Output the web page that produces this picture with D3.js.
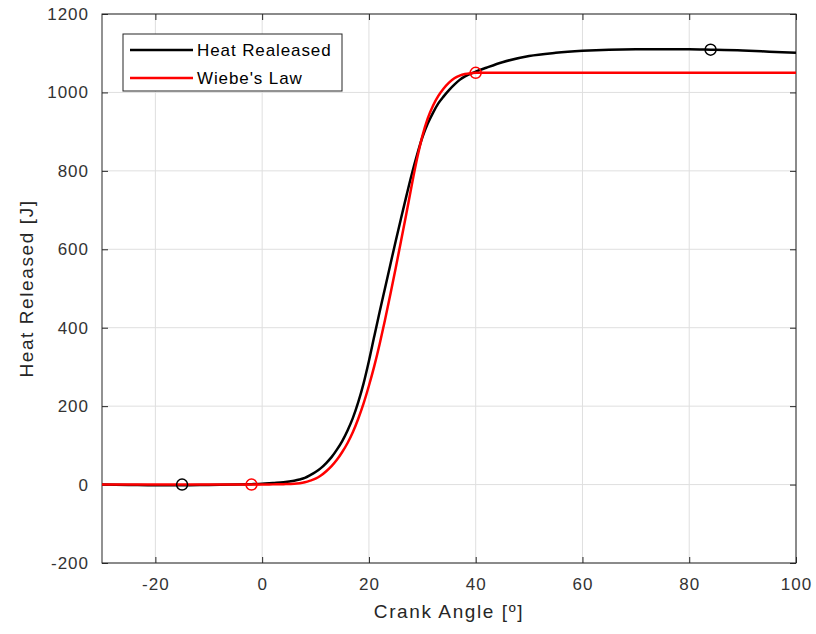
<!DOCTYPE html>
<html>
<head>
<meta charset="utf-8">
<script src="https://cdn.jsdelivr.net/npm/d3@7"></script>
<style>
  body { margin: 0; background: #fff; }
  text { font-family: "Liberation Sans", Arial, sans-serif; }
</style>
</head>
<body>
<div id="graph-container"></div>
<script>
// crank angle [deg] and heat released [J]
const heatAngle = [-30, -25, -20, -15, -10, -5, -2, 0, 2, 4, 6, 7, 8, 9, 10, 11, 12, 13, 14, 15, 16, 17, 18, 19, 20,
  21, 22, 23, 24, 25, 26, 27, 28, 29, 30, 31, 32, 33, 34, 35, 36, 37, 38, 40, 42, 45, 50, 55, 60, 65, 70, 80, 84, 90, 95, 100];
const heatValue = [0, -1, -2, -2, -1, 0, 1, 2, 4, 6, 10, 13, 17, 24, 32, 42, 55, 70, 89, 111, 138, 170, 210, 258, 315,
  378, 440, 500, 560, 620, 678, 735, 790, 840, 885, 920, 948, 972, 990, 1006, 1020, 1032, 1041, 1053, 1063, 1077, 1093, 1101, 1106, 1109, 1110, 1110, 1109, 1107, 1104, 1101];

const wiebeAngle = [-30, -20, -10, -2, 0, 2, 4, 6, 8, 9, 10, 11, 12, 13, 14, 15, 16, 17, 18, 19, 20,
  21, 22, 23, 24, 25, 26, 27, 28, 29, 30, 31, 32, 33, 34, 35, 36, 37, 38, 39, 40, 60, 80, 100];
const wiebeValue = [0, 0, 0, 0, 0, 0.5, 1, 2, 6, 10, 15, 23, 34, 47, 63, 83, 106, 134, 168, 207, 252,
  302, 358, 419, 484, 551, 620, 690, 762, 830, 888, 933, 966, 991, 1010, 1025, 1036, 1043, 1047, 1049, 1050, 1050, 1050, 1050];

// circle markers
const heatMarks = [{x: -15, y: 0}, {x: 84, y: 1109}];
const wiebeMarks = [{x: -2, y: 0}, {x: 40, y: 1050}];

const xTicks = [-20, 0, 20, 40, 60, 80, 100];
const yTicks = [-200, 0, 200, 400, 600, 800, 1000, 1200];

const legendNames = ["Heat Realeased", "Wiebe's Law"];
const legendColors = ["#000000", "#ff0000"];

let margin = {top: 14, right: 20, bottom: 71, left: 102},
  width = 816 - margin.left - margin.right,
  height = 634 - margin.top - margin.bottom;

let svg = d3.select("#graph-container")
  .append("svg")
  .attr("width", 816)
  .attr("height", 634)
    .append("g")
    .attr("transform", "translate(" + margin.left + "," + margin.top + ")");

let x = d3.scaleLinear().domain([-30, 100]).range([0, width]);
let y = d3.scaleLinear().domain([-200, 1200]).range([height, 0]);

// grid
svg.append("g")
  .selectAll("line")
  .data(xTicks)
  .enter().append("line")
    .attr("x1", d => x(d)).attr("x2", d => x(d))
    .attr("y1", 0).attr("y2", height)
    .attr("stroke", "#dfdfdf").attr("stroke-width", 1);
svg.append("g")
  .selectAll("line")
  .data(yTicks)
  .enter().append("line")
    .attr("x1", 0).attr("x2", width)
    .attr("y1", d => y(d)).attr("y2", d => y(d))
    .attr("stroke", "#dfdfdf").attr("stroke-width", 1);

// axes, ticks pointing inward on all four sides
function styleAxis(g) {
  g.select(".domain").remove();
  g.selectAll(".tick line").attr("stroke", "#262626");
  g.selectAll(".tick text")
    .attr("fill", "#333")
    .attr("font-size", "17px")
    .attr("letter-spacing", "1px");
}
let plain = d => String(d);
svg.append("g")
  .attr("transform", "translate(0," + height + ")")
  .call(d3.axisBottom(x).tickValues(xTicks).tickFormat(plain).tickSizeInner(-6).tickSizeOuter(0).tickPadding(15))
  .call(styleAxis);
svg.append("g")
  .call(d3.axisTop(x).tickValues(xTicks).tickSizeInner(-6).tickSizeOuter(0).tickFormat(""))
  .call(styleAxis);
svg.append("g")
  .call(d3.axisLeft(y).tickValues(yTicks).tickFormat(plain).tickSizeInner(-6).tickSizeOuter(0).tickPadding(13))
  .call(styleAxis);
svg.append("g")
  .attr("transform", "translate(" + width + ",0)")
  .call(d3.axisRight(y).tickValues(yTicks).tickSizeInner(-6).tickSizeOuter(0).tickFormat(""))
  .call(styleAxis);

// box
svg.append("rect")
  .attr("x", 0).attr("y", 0)
  .attr("width", width).attr("height", height)
  .attr("fill", "none").attr("stroke", "#262626").attr("stroke-width", 1);

// lines
let line = d3.line().x(d => x(d[0])).y(d => y(d[1])).curve(d3.curveMonotoneX);

svg.append("path")
  .datum(heatAngle.map((a, i) => [a, heatValue[i]]))
  .attr("d", line)
  .attr("fill", "none").attr("stroke", "#000").attr("stroke-width", 2.5);

svg.append("path")
  .datum(wiebeAngle.map((a, i) => [a, wiebeValue[i]]))
  .attr("d", line)
  .attr("fill", "none").attr("stroke", "#ff0000").attr("stroke-width", 2.5);

// markers
svg.append("g")
  .selectAll("circle")
  .data(heatMarks)
  .enter().append("circle")
    .attr("cx", d => x(d.x)).attr("cy", d => y(d.y)).attr("r", 5.5)
    .attr("fill", "none").attr("stroke", "#000").attr("stroke-width", 1.5);
svg.append("g")
  .selectAll("circle")
  .data(wiebeMarks)
  .enter().append("circle")
    .attr("cx", d => x(d.x)).attr("cy", d => y(d.y)).attr("r", 5.5)
    .attr("fill", "none").attr("stroke", "#ff0000").attr("stroke-width", 1.5);

// axis labels
svg.append("text")
  .attr("x", width / 2).attr("y", height + 55)
  .attr("text-anchor", "middle")
  .attr("font-size", "19px").attr("letter-spacing", "1.6px").attr("fill", "#262626")
  .text("Crank Angle [º]");
svg.append("text")
  .attr("transform", "translate(" + (-69) + "," + (height / 2) + ") rotate(-90)")
  .attr("text-anchor", "middle")
  .attr("font-size", "19px").attr("letter-spacing", "1.6px").attr("fill", "#262626")
  .text("Heat Released [J]");

// legend
let legend = svg.append("g").attr("transform", "translate(21,20)");
legend.append("rect")
  .attr("x", 0).attr("y", 0).attr("width", 219).attr("height", 57)
  .attr("fill", "#fff").attr("stroke", "#262626").attr("stroke-width", 1);
legendNames.forEach((name, i) => {
  let ly = 16 + i * 28;
  legend.append("line")
    .attr("x1", 7).attr("x2", 70).attr("y1", ly).attr("y2", ly)
    .attr("stroke", legendColors[i]).attr("stroke-width", 2.5);
  legend.append("text")
    .attr("x", 74).attr("y", ly + 6)
    .attr("font-size", "17px").attr("letter-spacing", "0.9px").attr("fill", "#000")
    .text(name);
});
</script>
</body>
</html>
